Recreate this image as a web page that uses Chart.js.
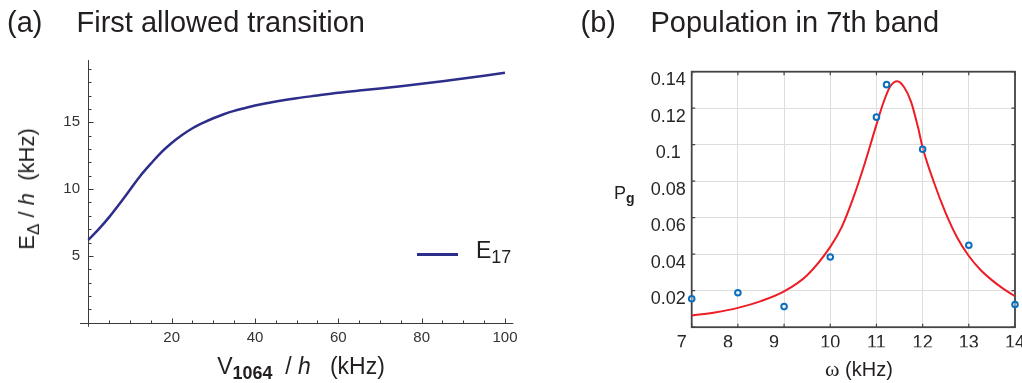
<!DOCTYPE html>
<html>
<head>
<meta charset="utf-8">
<script src="https://cdn.jsdelivr.net/npm/chart.js@4.4.1/dist/chart.umd.min.js"></script>
<style>
  html, body { margin: 0; padding: 0; background: #fff; overflow: hidden; }
  body { width: 1022px; height: 383px; position: relative; font-family: "Liberation Sans", Arial, Helvetica, sans-serif; color: #231f20; }
  .panel { position: absolute; top: 0; }
  .txt { position: absolute; white-space: pre; line-height: 1; }
  .title { font-size: 29px; top: 7.5px; }
  sub { font-size: 0.78em; vertical-align: -0.28em; line-height: 0; }
  .ylab { left: 27px; top: 189px; font-size: 22px; transform: translate(-50%, -50%) rotate(-90deg); }
  .xlab { left: 301px; top: 355px; font-size: 23px; transform: translateX(-50%); }
  .legline { position: absolute; left: 417px; top: 253px; width: 41px; height: 2.5px; background: #2d2e8c; }
  .legtxt { left: 476px; top: 239px; font-size: 23px; }
  .pg { left: 614px; top: 184px; font-size: 18px; }
  .wlab { left: 825px; top: 358px; font-size: 20px; }
  .omega { font-family: "Liberation Serif", "DejaVu Serif", serif; font-size: 22px; }
</style>
</head>
<body>
<div class="panel" style="left:0;width:520px;height:383px"><canvas id="chartA" width="520" height="383"></canvas></div>
<div class="panel" style="left:520px;width:520px;height:383px"><canvas id="chartB" width="520" height="383"></canvas></div>

<div class="txt title" style="left:7px">(a)</div>
<div class="txt title" style="left:76.5px">First allowed transition</div>
<div class="txt title" style="left:580.5px">(b)</div>
<div class="txt title" style="left:650.5px">Population in 7th band</div>

<div class="txt ylab">E<sub>Δ</sub> / <i>h</i>  (kHz)</div>
<div class="txt xlab">V<sub><b>1064</b></sub>  / <i>h</i>   (kHz)</div>
<div class="legline"></div>
<div class="txt legtxt">E<sub>17</sub></div>

<div class="txt pg">P<sub><b>g</b></sub></div>
<div class="txt wlab"><span class="omega">ω</span> (kHz)</div>

<script>
// (a) transition energy vs lattice depth
const depthV = [0, 2.5, 5, 7.5, 10, 12.5, 15, 17.5, 20, 22.5, 25, 27.5, 30, 32.5, 35, 37.5, 40,
  45, 50, 55, 60, 65, 70, 75, 80, 85, 90, 95, 100];
const energyE17 = [6.2, 7.0, 7.9, 8.9, 9.95, 11.0, 11.9, 12.75, 13.45, 14.05, 14.55, 14.95, 15.3,
  15.6, 15.85, 16.05, 16.25, 16.55, 16.8, 17.0, 17.2, 17.37, 17.53, 17.7, 17.88, 18.07, 18.27, 18.48, 18.7];
const xMajorA = [20, 40, 60, 80, 100];
const yMajorA = [5, 10, 15];

// (b) measured 7th band population and resonance fit
const omegaMeas = [7, 8, 9, 10, 11, 11.22, 12, 13, 14];
const popMeas = [0.0156, 0.0189, 0.0113, 0.0385, 0.1151, 0.1329, 0.0975, 0.0449, 0.0124];
const omegaFit = [7, 7.5, 8, 8.5, 9, 9.5, 10, 10.25, 10.5, 10.75, 11, 11.15, 11.3, 11.45, 11.6,
  11.75, 11.9, 12, 12.25, 12.5, 12.75, 13, 13.25, 13.5, 13.75, 14];
const popFit = [0.0064, 0.0081, 0.0106, 0.0143, 0.0196, 0.0285, 0.044, 0.055, 0.071, 0.09, 0.111,
  0.123, 0.132, 0.1348, 0.1315, 0.1235, 0.1095, 0.0985, 0.079, 0.0625, 0.049, 0.039, 0.0315, 0.0258,
  0.021, 0.017];
const yTicksB = [0.02, 0.04, 0.06, 0.08, 0.1, 0.12, 0.14];

Chart.defaults.font.family = "'Liberation Sans', Arial, Helvetica, sans-serif";
Chart.defaults.animation = false;

const pairs = (xs, ys) => xs.map((x, i) => ({ x, y: ys[i] }));

// axes through the origin with inward major/minor ticks
const originAxes = {
  id: 'originAxes',
  beforeDatasetsDraw(chart) {
    const { ctx, chartArea: a, scales: { x, y } } = chart;
    const x0 = Math.round(x.getPixelForValue(0)) + 0.5;
    const y0 = Math.round(y.getPixelForValue(0)) + 0.5;
    ctx.save();
    ctx.strokeStyle = '#3a3a3a';
    ctx.lineWidth = 1;
    ctx.beginPath();
    ctx.moveTo(a.left, y0);
    ctx.lineTo(a.right, y0);
    ctx.moveTo(x0, a.top);
    ctx.lineTo(x0, a.bottom);
    x.ticks.forEach(t => {
      const v = t.value;
      if (v <= 0 || v > 100 || v % 5 !== 0) return;
      const px = Math.round(x.getPixelForValue(v)) + 0.5;
      ctx.moveTo(px, y0);
      ctx.lineTo(px, y0 - (xMajorA.includes(v) ? 5 : 3));
    });
    y.ticks.forEach(t => {
      const v = t.value;
      if (v <= 0 || !Number.isInteger(v)) return;
      const py = Math.round(y.getPixelForValue(v)) + 0.5;
      ctx.moveTo(x0, py);
      ctx.lineTo(x0 + (yMajorA.includes(v) ? 5 : 3), py);
    });
    ctx.stroke();
    ctx.restore();
  }
};

// boxed axes with inward ticks on all four sides
const boxAxes = {
  id: 'boxAxes',
  beforeDatasetsDraw(chart) {
    const { ctx, chartArea: a, scales: { x, y } } = chart;
    ctx.save();
    ctx.strokeStyle = '#444';
    ctx.lineWidth = 1.2;
    ctx.beginPath();
    x.ticks.forEach(t => {
      const px = x.getPixelForValue(t.value);
      ctx.moveTo(px, a.bottom);
      ctx.lineTo(px, a.bottom - 3.5);
      ctx.moveTo(px, a.top);
      ctx.lineTo(px, a.top + 3.5);
    });
    y.ticks.forEach(t => {
      const py = y.getPixelForValue(t.value);
      ctx.moveTo(a.left, py);
      ctx.lineTo(a.left + 3.5, py);
      ctx.moveTo(a.right, py);
      ctx.lineTo(a.right - 3.5, py);
    });
    ctx.stroke();
    ctx.lineWidth = 1.8;
    ctx.strokeRect(a.left, a.top, a.right - a.left, a.bottom - a.top);
    ctx.restore();
  }
};

new Chart(document.getElementById('chartA'), {
  type: 'line',
  data: {
    datasets: [{
      label: 'E17',
      data: pairs(depthV, energyE17),
      borderColor: '#2d2e8c',
      borderWidth: 2.5,
      pointRadius: 0,
      cubicInterpolationMode: 'monotone'
    }]
  },
  options: {
    responsive: false,
    layout: { padding: { left: 40, right: 6.7, top: 60.1, bottom: 36.3 } },
    plugins: { legend: { display: false }, tooltip: { enabled: false } },
    scales: {
      x: {
        type: 'linear',
        min: -2,
        max: 102,
        afterFit(s) { s.height = 20; },
        grid: { display: false, drawTicks: false },
        border: { display: false },
        ticks: {
          stepSize: 5,
          includeBounds: false,
          autoSkip: false,
          maxRotation: 0,
          padding: 2,
          color: '#333',
          font: { size: 15 },
          callback: v => (xMajorA.includes(v) ? String(v) : '')
        }
      },
      y: {
        min: -0.3,
        max: 19.65,
        afterFit(s) { s.width = 40; },
        grid: { display: false, drawTicks: false },
        border: { display: false },
        ticks: {
          stepSize: 1,
          includeBounds: false,
          autoSkip: false,
          padding: 0,
          color: '#333',
          font: { size: 15 },
          callback: v => (yMajorA.includes(v) ? String(v) : '')
        }
      }
    }
  },
  plugins: [originAxes]
});

new Chart(document.getElementById('chartB'), {
  type: 'line',
  data: {
    datasets: [
      {
        label: 'data',
        data: pairs(omegaMeas, popMeas),
        showLine: false,
        pointRadius: 2.8,
        pointBorderWidth: 2,
        pointBorderColor: '#0b6fc0',
        pointBackgroundColor: 'rgba(255,255,255,0.4)',
        clip: false,
        order: 0
      },
      {
        label: 'fit',
        data: pairs(omegaFit, popFit),
        borderColor: '#ee1c25',
        borderWidth: 2,
        pointRadius: 0,
        cubicInterpolationMode: 'monotone',
        order: 1
      }
    ]
  },
  options: {
    responsive: false,
    layout: { padding: { left: 111.7, right: 25, top: 71.7, bottom: 35.8 } },
    plugins: { legend: { display: false }, tooltip: { enabled: false } },
    scales: {
      x: {
        type: 'linear',
        min: 7,
        max: 14,
        afterFit(s) { s.height = 20; },
        grid: { color: '#dedede', lineWidth: 1, drawTicks: false },
        border: { display: false },
        ticks: {
          stepSize: 1,
          autoSkip: false,
          maxRotation: 0,
          padding: 5,
          color: '#262626',
          font: { size: 18 },
          // single digits sit left of their tick
          callback: v => (v < 10 ? v + '    ' : String(v))
        }
      },
      y: {
        min: 0,
        max: 0.14,
        afterFit(s) { s.width = 60; },
        grid: { color: '#dedede', lineWidth: 1, drawTicks: false },
        border: { display: false },
        ticks: {
          stepSize: 0.02,
          autoSkip: false,
          padding: 6,
          crossAlign: 'center',
          labelOffset: 8.5,
          color: '#262626',
          font: { size: 18 },
          callback: v => (yTicksB.some(t => Math.abs(t - v) < 1e-9) ? String(+v.toFixed(2)) : '')
        }
      }
    }
  },
  plugins: [boxAxes]
});
</script>
</body>
</html>
